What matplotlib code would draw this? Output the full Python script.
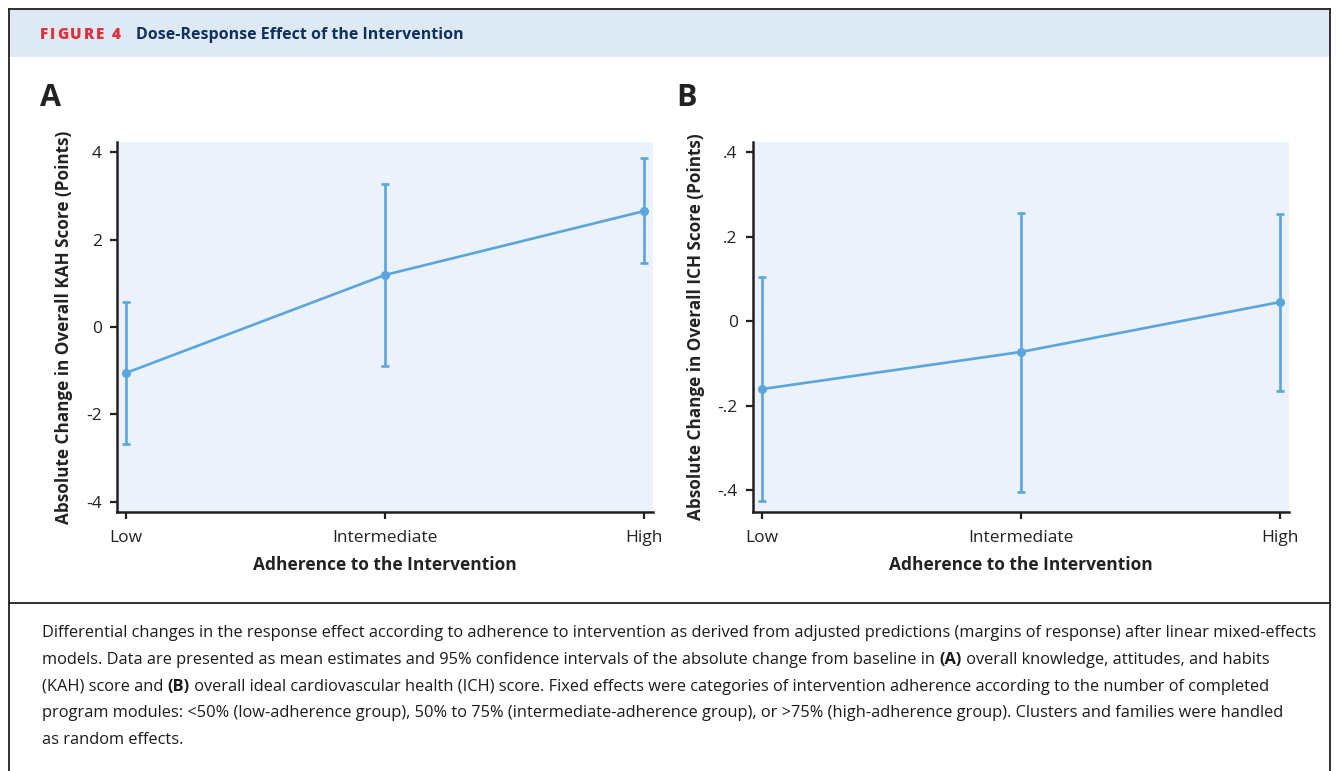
import matplotlib
matplotlib.use("Agg")
import matplotlib.pyplot as plt
from matplotlib.patches import Rectangle
from matplotlib.lines import Line2D

# data
groups = ["Low", "Intermediate", "High"]
kah_mean = [-1.05, 1.19, 2.65]
kah_lo = [-2.67, -0.89, 1.46]
kah_hi = [0.57, 3.27, 3.86]
ich_mean = [-0.161, -0.073, 0.045]
ich_lo = [-0.426, -0.405, -0.166]
ich_hi = [0.104, 0.256, 0.253]

kah_ticks = [-4, -2, 0, 2, 4]
kah_ticklabels = ["-4", "-2", "0", "2", "4"]
ich_ticks = [-0.4, -0.2, 0, 0.2, 0.4]
ich_ticklabels = ["-.4", "-.2", "0", ".2", ".4"]

W, H = 1336, 771
BLUE = "#5aa5dc"
BG = "#ebf2fb"
DARK = "#231f20"

plt.rcParams['font.family'] = ['Open Sans', 'DejaVu Sans']
fig = plt.figure(figsize=(W / 100, H / 100), dpi=100)
renderer = fig.canvas.get_renderer()


def px(x, y):
    return x / W, 1 - y / H


# frame and header band
fig.patches.append(Rectangle(px(9, 57), 1321 / W, 48 / H, transform=fig.transFigure,
                             facecolor="#dde9f5", edgecolor="none", zorder=0))
for xs, ys in [((9, 1330), (9, 9)), ((9, 9), (9, 771)), ((1330, 1330), (9, 771)),
               ((9, 1330), (603, 603))]:
    fig.lines.append(Line2D([x / W for x in xs], [1 - y / H for y in ys],
                            transform=fig.transFigure, color=DARK, lw=1.3))

# spaced-out red label
x = 40
for ch in "FIGURE 4":
    t = fig.text(*px(x, 35), ch, color="#e0303a", fontsize=11, fontweight="extra bold",
                 fontstretch="normal", va="center", ha="left")
    x += t.get_window_extent(renderer).width + 1.8
fig.text(*px(136, 35), "Dose-Response Effect of the Intervention", color="#10305e",
         fontsize=11.5, fontweight="bold", va="center", ha="left")


def panel(left, letter, mean, lo, hi, ticks, ticklabels, ylim, ylabel):
    ax = fig.add_axes([left / W, 1 - 512 / H, 536 / W, 370 / H])
    ax.set_facecolor(BG)
    x = list(range(len(groups)))
    yerr = [[m - l for m, l in zip(mean, lo)], [h - m for m, h in zip(mean, hi)]]
    ax.errorbar(x, mean, yerr=yerr, color=BLUE, lw=1.9, elinewidth=1.9, capsize=3.2,
                capthick=1.9, marker="o", markersize=5.5)
    ax.set_xlim(-0.035, 2.035)
    ax.set_ylim(*ylim)
    ax.set_xticks(x)
    ax.set_xticklabels(groups)
    ax.set_yticks(ticks)
    ax.set_yticklabels(ticklabels)
    for s in ["top", "right"]:
        ax.spines[s].set_visible(False)
    for s in ["left", "bottom"]:
        ax.spines[s].set_color(DARK)
        ax.spines[s].set_linewidth(1.8)
    ax.tick_params(colors=DARK, width=1.6, length=5, labelsize=12.5, labelcolor="#222222")
    ax.tick_params(axis="x", pad=8)
    ax.tick_params(axis="y", pad=6)
    ax.set_xlabel("Adherence to the Intervention", fontsize=12.5, fontweight="bold",
                  color="#222222", labelpad=7)
    ax.set_ylabel(ylabel, fontsize=12.3, fontweight="bold", color="#222222", labelpad=9)
    fig.text(*px(left - 77, 98), letter, fontsize=22, fontweight="bold", color="#222222",
             va="center", ha="left")
    return ax


panel(117, "A", kah_mean, kah_lo, kah_hi, kah_ticks, kah_ticklabels, (-4.23, 4.23),
      "Absolute Change in Overall KAH Score (Points)")
panel(753, "B", ich_mean, ich_lo, ich_hi, ich_ticks, ich_ticklabels, (-0.452, 0.424),
      "Absolute Change in Overall ICH Score (Points)")

# caption, with bold runs
caption = [
    [("Differential changes in the response effect according to adherence to intervention as derived from adjusted predictions (margins of response) after linear mixed-effects", False)],
    [("models. Data are presented as mean estimates and 95% confidence intervals of the absolute change from baseline in ", False), ("(A)", True),
     (" overall knowledge, attitudes, and habits", False)],
    [("(KAH) score and ", False), ("(B)", True),
     (" overall ideal cardiovascular health (ICH) score. Fixed effects were categories of intervention adherence according to the number of completed", False)],
    [("program modules: <50% (low-adherence group), 50% to 75% (intermediate-adherence group), or >75% (high-adherence group). Clusters and families were handled", False)],
    [("as random effects.", False)],
]
stretch = "semi-condensed"
# pick a size so the first line spans the same width as in the original
probe = fig.text(0, 0, caption[0][0][0], fontsize=10, fontstretch=stretch)
cap_size = 10 * 1274 / probe.get_window_extent(renderer).width
probe.remove()

for i, line in enumerate(caption):
    x = 42
    y = 633 + i * 26.8
    for txt, bold in line:
        t = fig.text(*px(x, y), txt, fontsize=cap_size, fontweight="bold" if bold else "normal",
                     color="#1a1a1a", va="center", ha="left", fontstretch=stretch)
        x += t.get_window_extent(renderer).width

fig.savefig("out.png", dpi=100)
